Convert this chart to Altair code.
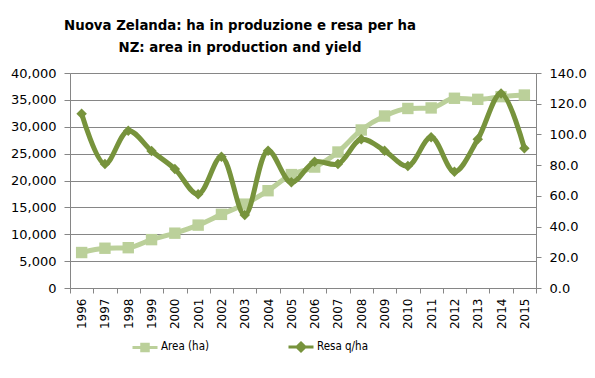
import altair as alt
import pandas as pd

years = [str(y) for y in range(1996, 2016)]
area_ha = [6600, 7400, 7500, 9000, 10200, 11700, 13700, 15600, 18100, 21100,
           22500, 25300, 29400, 32000, 33400, 33500, 35300, 35100, 35600, 35900]
resa_qha = [113.5, 80.7, 102.4, 89.2, 77.5, 61.0, 85.5, 47.5, 89.4, 68.8,
            82.2, 80.7, 96.8, 89.4, 79.4, 98.1, 75.7, 96.8, 126.7, 91.0]
series_names = ["Area (ha)", "Resa q/ha"]
series_colors = ["#BBD09A", "#77933C"]

df = pd.DataFrame({"year": years, "area": area_ha, "resa": resa_qha})
leg_df = pd.DataFrame({"series": series_names})

LABEL_FONT = "DejaVu Sans"
TITLE_FONT = "DejaVu Sans Condensed, sans-serif"
LEG_FONT = "DejaVu Sans Condensed, sans-serif"
GRID = "#868686"

P_AREA = "M-1,0H1M-0.26,-0.26H0.26V0.26H-0.26Z"
P_RESA = "M-1,0H1M0,-0.32L0.32,0L0,0.32L-0.32,0Z"

color_scale = alt.Scale(domain=series_names, range=series_colors)
shape_scale = alt.Scale(domain=series_names, range=[P_AREA, P_RESA])
legend = alt.Legend(
    title=None, orient="none", legendX=61, legendY=260, direction="horizontal",
    symbolSize=625, symbolStrokeWidth=3, labelFont=LEG_FONT,
    labelFontSize=11.5, labelColor="#000000", columnPadding=72, labelOffset=2,
    padding=0,
)

x_enc = alt.X(
    "year:O", title=None,
    scale=alt.Scale(type="band", paddingInner=0, paddingOuter=0),
    axis=alt.Axis(labelAngle=-90, labelFont=LABEL_FONT, labelFontSize=12,
                  labelColor="#000000", domainColor=GRID, tickColor=GRID,
                  tickSize=5, tickBand="extent", labelPadding=5, grid=False),
)

base = alt.Chart(df)

area_y = alt.Y("area:Q", title=None,
               scale=alt.Scale(domain=[0, 40000], nice=False),
               axis=alt.Axis(orient="left", values=list(range(0, 40001, 5000)),
                             format=",d", labelFont=LABEL_FONT, labelFontSize=13,
                             labelColor="#000000", domainColor=GRID, tickColor=GRID,
                             tickSize=6, gridColor=GRID, grid=True, labelPadding=8))
area_line = base.mark_line(strokeWidth=5, interpolate="monotone",
                           color=series_colors[0]).encode(x=x_enc, y=area_y)
area_pts = base.mark_point(shape="square", filled=True, size=130, opacity=1,
                           color=series_colors[0]).encode(x=x_enc, y=area_y)
area_layer = alt.layer(area_line, area_pts)

resa_y = alt.Y("resa:Q", title=None,
               scale=alt.Scale(domain=[0, 140], nice=False),
               axis=alt.Axis(orient="right", values=list(range(0, 141, 20)),
                             format=".1f", labelFont=LABEL_FONT, labelFontSize=13,
                             labelColor="#000000", domainColor=GRID, tickColor=GRID,
                             tickSize=5, grid=False, labelPadding=8))
resa_line = base.mark_line(strokeWidth=5, interpolate="catmull-rom",
                           color=series_colors[1]).encode(x=x_enc, y=resa_y)
resa_pts = base.mark_point(shape="diamond", filled=True, size=110, opacity=1,
                           color=series_colors[1]).encode(x=x_enc, y=resa_y)
resa_layer = alt.layer(resa_line, resa_pts)

legend_layer = alt.Chart(leg_df).transform_filter("false").mark_point(
    strokeWidth=3, opacity=1).encode(
    fill=alt.Fill("series:N", scale=color_scale, legend=legend),
    stroke=alt.Stroke("series:N", scale=color_scale, legend=legend),
    shape=alt.Shape("series:N", scale=shape_scale, legend=legend),
)

chart = alt.layer(area_layer, resa_layer, legend_layer).resolve_scale(
    y="independent").properties(
    width=466, height=215,
    autosize=alt.AutoSizeParams(type="none"),
    padding={"left": 62, "top": 65, "right": 51, "bottom": 82},
    title=alt.TitleParams(
        text=["Nuova Zelanda: ha in produzione e resa per ha",
              "NZ: area in production and yield"],
        font=TITLE_FONT, fontSize=14.8, fontWeight="bold",
        color="#000000", anchor="middle", dx=-63, offset=12, lineHeight=22),
).configure_view(fill="#EEF2E6", stroke=None).configure(background="white")

chart.save("out.html", embed_options={"renderer": "svg", "actions": False})
